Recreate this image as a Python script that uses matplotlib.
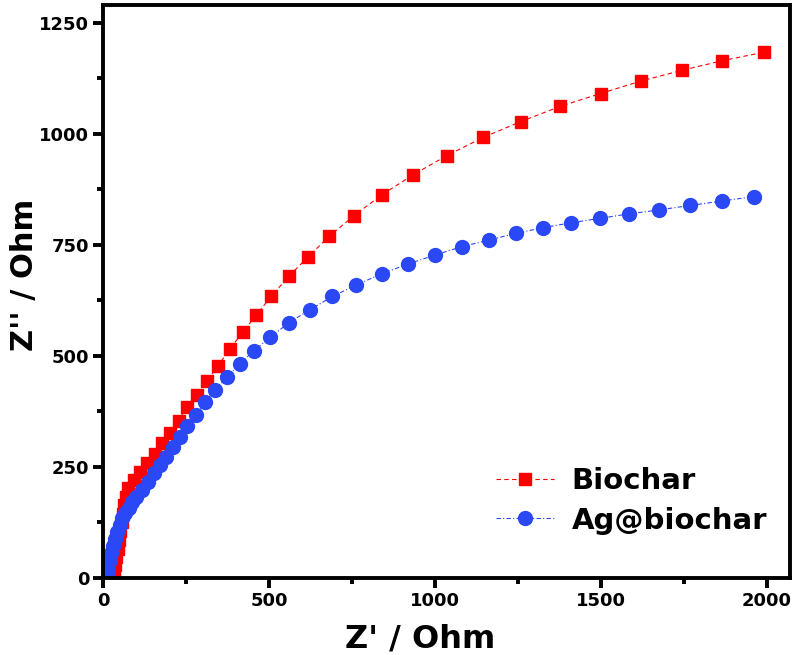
import matplotlib.pyplot as plt

# Nyquist data (Z' and Z'' in Ohm)
biochar_zre = [28, 32, 36, 40, 44, 48, 52, 56, 60, 64, 68, 74, 92, 112, 132, 155,
               178, 202, 227, 252, 283, 313, 346, 381, 420, 461, 506, 559, 616,
               682, 756, 840, 934, 1035, 1145, 1259, 1377, 1499, 1620, 1743,
               1866, 1991]
biochar_zim = [0, 15, 30, 48, 66, 85, 105, 125, 145, 165, 183, 202, 220, 239, 258,
               280, 303, 327, 354, 386, 411, 444, 478, 515, 553, 592, 634, 679,
               722, 770, 816, 863, 908, 951, 992, 1028, 1062, 1091, 1119, 1143,
               1165, 1184]

ag_zre = [6, 10, 14, 19, 24, 30, 36, 43, 50, 58, 67, 77, 88, 100, 117, 134, 152,
          172, 190, 210, 230, 254, 281, 307, 337, 373, 411, 455, 503, 560, 623,
          691, 763, 839, 918, 999, 1080, 1162, 1243, 1326, 1411, 1497, 1586,
          1676, 1770, 1865, 1961]
ag_zim = [0, 12, 25, 40, 56, 72, 88, 104, 120, 134, 146, 158, 170, 182, 198, 217,
          236, 255, 273, 296, 318, 342, 367, 396, 423, 452, 482, 512, 542, 575,
          604, 634, 660, 685, 707, 727, 746, 761, 776, 789, 800, 810, 820, 829,
          839, 849, 859]

x_ticks = [0, 500, 1000, 1500, 2000]
y_ticks = [0, 250, 500, 750, 1000, 1250]

fig = plt.figure(figsize=(8, 6.55), dpi=100)
ax = fig.add_axes([0.129, 0.1176, 0.8585, 0.8745])

ax.plot(biochar_zre, biochar_zim, color='#ff0000', marker='s', markersize=8.5,
        linestyle=(0, (4, 3)), linewidth=0.8, label='Biochar')
ax.plot(ag_zre, ag_zim, color='#2a48f5', marker='o', markersize=10,
        linestyle=(0, (4, 2, 1, 2)), linewidth=0.8, label='Ag@biochar')

ax.set_xlim(0, 2070)
ax.set_ylim(0, 1290)
ax.set_xticks(x_ticks)
ax.set_yticks(y_ticks)
ax.set_xticks([250, 750, 1250, 1750], minor=True)
ax.set_yticks([125, 375, 625, 875, 1125], minor=True)

for s in ax.spines.values():
    s.set_linewidth(2.8)
ax.tick_params(which='major', direction='out', length=7, width=2.8,
               labelsize=13, pad=3)
ax.tick_params(which='minor', direction='out', length=4.5, width=2.8)
for lbl in ax.get_xticklabels() + ax.get_yticklabels():
    lbl.set_fontweight('bold')

ax.set_xlabel("Z' / Ohm", fontsize=23, fontweight='bold')
ax.xaxis.set_label_coords(0.461, -0.08)
ax.set_ylabel("Z'' / Ohm", fontsize=22, fontweight='bold')
ax.yaxis.set_label_coords(-0.094, 0.53)

ax.legend(loc='lower right', bbox_to_anchor=(1.005, 0.03), frameon=False,
          prop={'size': 21, 'weight': 'bold'}, handlelength=2.0,
          handletextpad=0.6, labelspacing=0.4)

fig.savefig('out.png', dpi=100)
